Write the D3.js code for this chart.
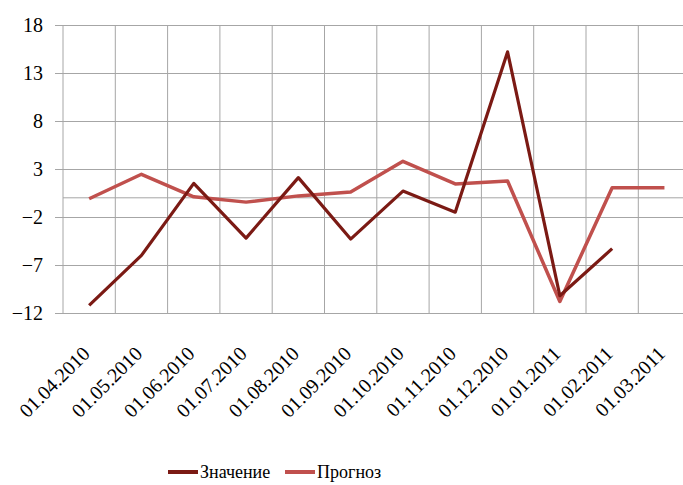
<!DOCTYPE html>
<html>
<head>
<meta charset="UTF-8">
<script src="https://d3js.org/d3.v7.min.js"></script>
</head>
<body style="margin:0">
<svg width="683" height="485"></svg>
<script>
var dates = ["01.04.2010", "01.05.2010", "01.06.2010", "01.07.2010", "01.08.2010", "01.09.2010",
             "01.10.2010", "01.11.2010", "01.12.2010", "01.01.2011", "01.02.2011", "01.03.2011"];
var valueSeries = [-11.2, -6.0, 1.5, -4.2, 2.1, -4.3, 0.7, -1.5, 15.2, -10.2, -5.3, null];
var forecastSeries = [-0.1, 2.45, 0.1, -0.45, 0.2, 0.6, 3.8, 1.45, 1.75, -10.8, 1.05, 1.05];
var yTicks = [18, 13, 8, 3, -2, -7, -12];

var fontName = "'Liberation Serif', 'Times New Roman', Times, Tinos, serif";

var svg = d3.select("svg").style("font-family", fontName),
    plotLeft = 63, plotTop = 25, plotBottom = 313,
    plotRight = plotLeft + 12 * 52.3;

var xScale = d3.scaleBand().domain(dates).range([plotLeft, plotRight]),
    yScale = d3.scaleLinear().domain([-12, 18]).range([plotBottom, plotTop]);

var grid = "#a6a6a6";

// horizontal gridlines with outer tick marks
svg.append("g")
    .attr("transform", "translate(" + plotLeft + ",0)")
    .call(d3.axisLeft(yScale).tickValues(yTicks).tickSize(8))
    .call(function(g) {
        g.select(".domain").remove();
        g.attr("font-family", null).style("font-family", fontName);
        g.selectAll(".tick line").attr("stroke", grid).attr("x1", -8).attr("x2", plotRight - plotLeft);
        g.selectAll(".tick text")
            .style("font-family", fontName)
            .attr("font-size", "20px").attr("fill", "#000").attr("x", -20);
    });

// vertical gridlines at band boundaries
svg.append("g").selectAll("line")
    .data(dates.concat(["end"]))
    .enter().append("line")
    .attr("x1", function(d, i) { return plotLeft + i * xScale.bandwidth(); })
    .attr("x2", function(d, i) { return plotLeft + i * xScale.bandwidth(); })
    .attr("y1", plotTop)
    .attr("y2", plotBottom)
    .attr("stroke", grid);

// zero line (category axis)
svg.append("line")
    .attr("x1", plotLeft).attr("x2", plotRight)
    .attr("y1", yScale(0)).attr("y2", yScale(0))
    .attr("stroke", grid);

// category labels
svg.append("g")
    .attr("transform", "translate(0," + plotBottom + ")")
    .call(d3.axisBottom(xScale).tickSize(0))
    .call(function(g) {
        g.select(".domain").remove();
        g.attr("font-family", null).style("font-family", fontName);
        g.selectAll(".tick text")
            .style("font-family", fontName)
            .attr("font-size", "20px")
            .attr("fill", "#000")
            .attr("text-anchor", "end")
            .attr("dy", 0)
            .attr("y", 0)
            .attr("transform", "translate(2,42) rotate(-45)");
    });

var line = d3.line()
    .defined(function(d) { return d != null; })
    .x(function(d, i) { return xScale(dates[i]) + xScale.bandwidth() / 2; })
    .y(function(d) { return yScale(d); });

svg.append("path")
    .datum(forecastSeries)
    .attr("fill", "none")
    .attr("stroke", "#c0504d")
    .attr("stroke-width", 3.5)
    .attr("stroke-linejoin", "round")
    .attr("d", line);

svg.append("path")
    .datum(valueSeries)
    .attr("fill", "none")
    .attr("stroke", "#7b1a14")
    .attr("stroke-width", 3.2)
    .attr("stroke-linejoin", "round")
    .attr("d", line);

// legend
var legend = [
    { name: "Значение", color: "#7b1a14", x: 168 },
    { name: "Прогноз", color: "#c0504d", x: 285 }
];
var lg = svg.append("g")
    .selectAll("g").data(legend).enter().append("g")
    .attr("transform", function(d) { return "translate(" + d.x + ",472)"; });
lg.append("line").attr("x1", 0).attr("x2", 30).attr("stroke", function(d) { return d.color; }).attr("stroke-width", 4);
lg.append("text").attr("x", 32).attr("dy", "0.35em")
    .style("font-family", fontName).attr("font-size", "18px")
    .text(function(d) { return d.name; });
</script>
</body>
</html>
